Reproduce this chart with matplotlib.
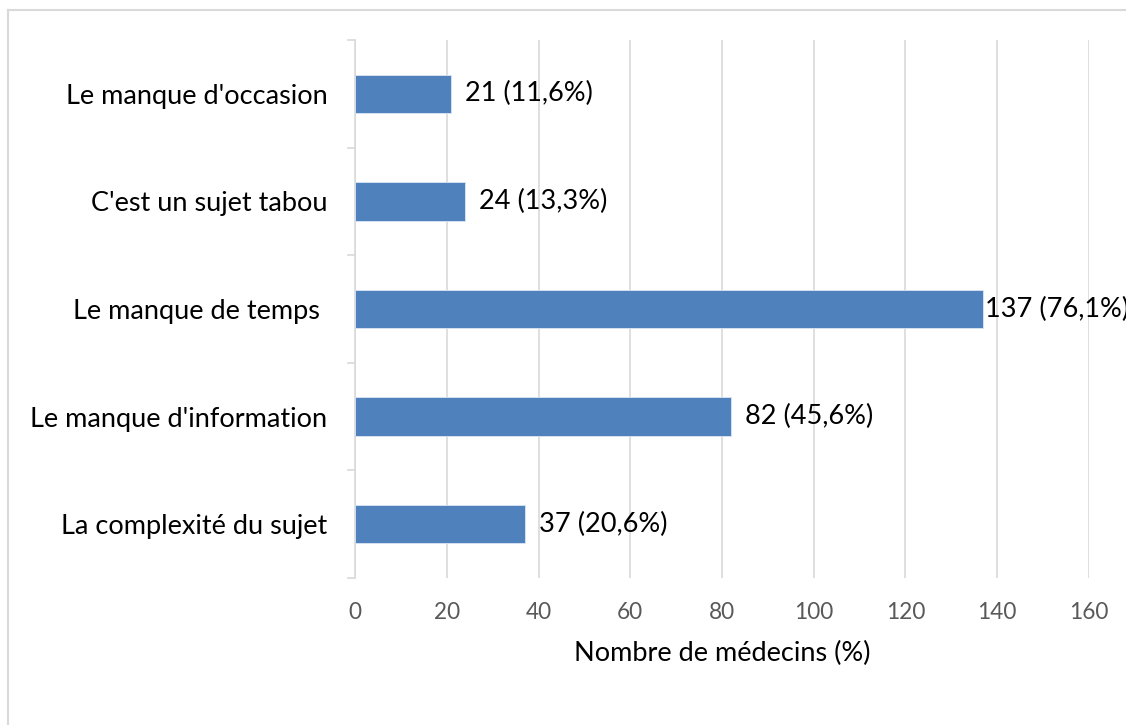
import matplotlib.pyplot as plt
from matplotlib.lines import Line2D

plt.rcParams['font.family'] = ['Lato', 'DejaVu Sans']

# Données (de haut en bas)
raisons = ["Le manque d'occasion", "C'est un sujet tabou", "Le manque de temps ",
           "Le manque d'information", "La complexité du sujet"]
medecins = [21, 24, 137, 82, 37]
pourcentages = ["11,6", "13,3", "76,1", "45,6", "20,6"]
graduations = [0, 20, 40, 60, 80, 100, 120, 140, 160]

fig = plt.figure(figsize=(11.26, 7.25), dpi=100)
ax = fig.add_axes([0.3153, 0.2028, 0.6518, 0.742])

pos = list(range(len(raisons)))
barres = ax.barh(pos, medecins, height=0.355, color='#4F81BD',
                 edgecolor='#DCE6F2', linewidth=0.6, zorder=3)

for b, n, p in zip(barres, medecins, pourcentages):
    pad = 2 if n > 100 else 14
    ax.annotate(f"{n} ({p}%)", (b.get_width(), b.get_y() + b.get_height() / 2),
                xytext=(pad, 0), textcoords='offset pixels',
                va='center', ha='left', fontsize=19.5, color='black',
                annotation_clip=False)

ax.set_xlim(0, 160)
ax.set_ylim(len(raisons) - 0.5, -0.5)
ax.set_xticks(graduations)
ax.set_xticklabels([str(g) for g in graduations], color='#595959', fontsize=16.3)
ax.tick_params(axis='x', length=0, pad=17)
ax.xaxis.grid(True, color='#D9D9D9', linewidth=1.2, zorder=0)

ax.set_yticks(pos)
ax.set_yticklabels(raisons, fontsize=19.5, color='black')
ax.tick_params(axis='y', length=0, pad=20)

for s in ['top', 'right', 'bottom']:
    ax.spines[s].set_visible(False)
ax.spines['left'].set_color('#D9D9D9')
ax.spines['left'].set_linewidth(1.2)

# petites marques entre catégories
for y in [i - 0.5 for i in range(len(raisons) + 1)]:
    ax.add_line(Line2D([-1.6, 0], [y, y], color='#D9D9D9', linewidth=1.2,
                       clip_on=False))

ax.set_xlabel('Nombre de médecins (%)', fontsize=19.5, labelpad=13)

# cadre du graphique
fig.add_artist(Line2D([8 / 1126, 8 / 1126], [0, 1 - 10 / 725], color='#D9D9D9', linewidth=1.5))
fig.add_artist(Line2D([8 / 1126, 1], [1 - 10 / 725, 1 - 10 / 725], color='#D9D9D9', linewidth=1.5))

fig.savefig('out.png', dpi=100)
